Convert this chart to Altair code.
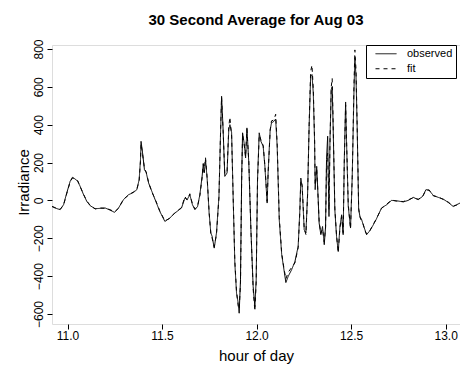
import altair as alt
import pandas as pd

hours = [10.918, 10.934, 10.961, 10.979, 10.996, 11.014, 11.026, 11.040, 11.054, 11.067,
         11.085, 11.102, 11.120, 11.146, 11.172, 11.199, 11.220, 11.249, 11.270, 11.296,
         11.323, 11.349, 11.367, 11.379, 11.386, 11.389, 11.397, 11.407, 11.416, 11.429,
         11.446, 11.467, 11.488, 11.515, 11.541, 11.568, 11.603, 11.621, 11.633, 11.647,
         11.661, 11.674, 11.688, 11.700, 11.712, 11.718, 11.723, 11.730, 11.739, 11.749,
         11.758, 11.765, 11.776, 11.788, 11.801, 11.810, 11.815, 11.823, 11.832, 11.844,
         11.853, 11.859, 11.868, 11.876, 11.885, 11.894, 11.903, 11.908, 11.915, 11.921,
         11.926, 11.934, 11.942, 11.949, 11.959, 11.970, 11.982, 11.991, 11.998, 12.005,
         12.014, 12.023, 12.035, 12.044, 12.056, 12.061, 12.072, 12.079, 12.092, 12.101,
         12.109, 12.120, 12.133, 12.145, 12.155, 12.167, 12.185, 12.203, 12.220, 12.229,
         12.234, 12.241, 12.247, 12.252, 12.261, 12.270, 12.278, 12.286, 12.293, 12.300,
         12.307, 12.310, 12.318, 12.323, 12.331, 12.340, 12.349, 12.358, 12.365, 12.370,
         12.376, 12.383, 12.388, 12.395, 12.400, 12.405, 12.414, 12.423, 12.432, 12.441,
         12.450, 12.458, 12.464, 12.471, 12.476, 12.485, 12.497, 12.506, 12.515, 12.520,
         12.526, 12.532, 12.540, 12.547, 12.556, 12.564, 12.573, 12.582, 12.596, 12.614,
         12.632, 12.661, 12.688, 12.714, 12.741, 12.776, 12.802, 12.829, 12.855, 12.878,
         12.896, 12.913, 12.935, 12.961, 12.987, 13.014, 13.040, 13.058, 13.076]

observed = [-32, -40, -49, -23, 39, 101, 122, 113, 101, 74,
            30, -5, -28, -44, -42, -40, -49, -63, -40, 4,
            30, 42, 57, 110, 215, 312, 251, 162, 148, 92,
            48, -5, -58, -111, -93, -67, -40, 13, 4, 30,
            -23, -49, -32, 30, 127, 189, 145, 215, 110, -67,
            -172, -190, -252, -172, 21, 374, 550, 374, 127, 145,
            374, 400, 358, 21, -331, -490, -543, -596, -420, 110,
            357, 304, 224, 383, 198, -155, -455, -561, -420, 110,
            357, 312, 286, 180, -14, 145, 374, 409, 418, 430,
            286, -102, -287, -367, -434, -402, -367, -323, -243, -49,
            118, 74, -49, -155, -172, 39, 391, 656, 665, 568,
            304, 57, 180, 74, -120, -181, -138, -234, -138, 215,
            339, -85, 304, 586, 600, 391, -49, -190, -270, -138,
            -76, -181, 215, 520, 304, -32, -146, 127, 568, 750,
            656, 391, -49, -85, -102, -129, -155, -181, -164, -135,
            -102, -40, -23, 0, -2, -8, 0, 16, 4, 21,
            57, 53, 26, 16, 7, -11, -32, -23, -14]

fit = [-32, -38, -47, -25, 36, 98, 118, 116, 104, 72,
       32, -3, -26, -45, -40, -42, -47, -60, -42, 6,
       28, 45, 60, 105, 205, 300, 245, 170, 150, 95,
       45, -2, -55, -108, -95, -65, -38, 20, 2, 35,
       -20, -45, -30, 25, 120, 195, 150, 225, 115, -60,
       -175, -200, -245, -180, 15, 380, 545, 370, 140, 150,
       390, 440, 340, 30, -320, -480, -560, -575, -440, 90,
       350, 300, 230, 375, 205, -150, -470, -585, -430, 100,
       345, 320, 290, 185, -5, 140, 370, 420, 425, 455,
       300, -90, -280, -360, -415, -380, -355, -330, -250, -60,
       105, 80, -40, -150, -180, 30, 400, 680, 715, 590,
       320, 80, 170, 70, -110, -175, -150, -220, -145, 200,
       250, -50, 290, 600, 645, 410, -40, -185, -275, -145,
       -85, -170, 200, 505, 320, -20, -150, 120, 600, 795,
       690, 400, -40, -90, -110, -125, -160, -178, -168, -132,
       -100, -42, -20, 2, -4, -6, 3, 14, 6, 19,
       55, 55, 24, 18, 5, -9, -30, -25, -12]

series_names = ["observed", "fit"]
x_ticks = [11.0, 11.5, 12.0, 12.5, 13.0]
y_ticks = [-600, -400, -200, 0, 200, 400, 600, 800]

df = pd.concat([
    pd.DataFrame({"hour": hours, "value": observed, "series": series_names[0]}),
    pd.DataFrame({"hour": hours, "value": fit, "series": series_names[1]}),
])

FONT = "Liberation Sans"

chart = alt.Chart(df).mark_line(strokeWidth=1, color="black", clip=True).encode(
    x=alt.X("hour:Q",
            scale=alt.Scale(domain=[10.918, 13.076], nice=False, zero=False),
            axis=alt.Axis(title="hour of day", values=x_ticks, format=".1f",
                          grid=False, domain=False, tickSize=5, tickColor="black",
                          labelFontSize=12, labelFont=FONT, labelColor="black",
                          labelPadding=1, labelFlush=False,
                          titleFontSize=15, titleFont=FONT, titleFontWeight="normal",
                          titleColor="black", titleX=204, titleY=31,
                          titleBaseline="middle")),
    y=alt.Y("value:Q",
            scale=alt.Scale(domain=[-653, 821], nice=False, zero=False),
            axis=alt.Axis(title="Irradiance", values=y_ticks, format="d",
                          grid=False, domain=False, tickSize=5, tickColor="black",
                          labelFontSize=12, labelFont=FONT, labelColor="black",
                          labelAngle=-90, labelAlign="center", labelBaseline="bottom",
                          labelPadding=2, labelFlush=False,
                          titleFontSize=15, titleFont=FONT, titleFontWeight="normal",
                          titleColor="black", titleAngle=-90, titleX=-29, titleY=137,
                          titleBaseline="middle", titleAlign="center")),
    strokeDash=alt.StrokeDash("series:N",
                              scale=alt.Scale(domain=series_names, range=[[1, 0], [4, 4]]),
                              legend=alt.Legend(title=None, orient="none", legendX=314, legendY=0,
                                                symbolType="stroke", symbolSize=441,
                                                symbolStrokeWidth=1, symbolStrokeColor="black",
                                                labelFontSize=11, labelFont=FONT, labelColor="black",
                                                labelOffset=10, padding=3, symbolOffset=6,
                                                clipHeight=11.5, rowPadding=2,
                                                strokeColor="black",
                                                fillColor="white", cornerRadius=0)),
).properties(
    width=408,
    height=279,
    title=alt.TitleParams("30 Second Average for Aug 03", fontSize=15, fontWeight="bold",
                          font=FONT, color="black", anchor="middle", frame="group",
                          baseline="alphabetic", offset=-1),
    padding={"left": 52, "top": 45, "right": 0, "bottom": 42},
    autosize="none",
).configure_view(stroke="black", strokeWidth=1).configure(background="white")

chart.save("out.html", embed_options={"renderer": "svg", "actions": False})
